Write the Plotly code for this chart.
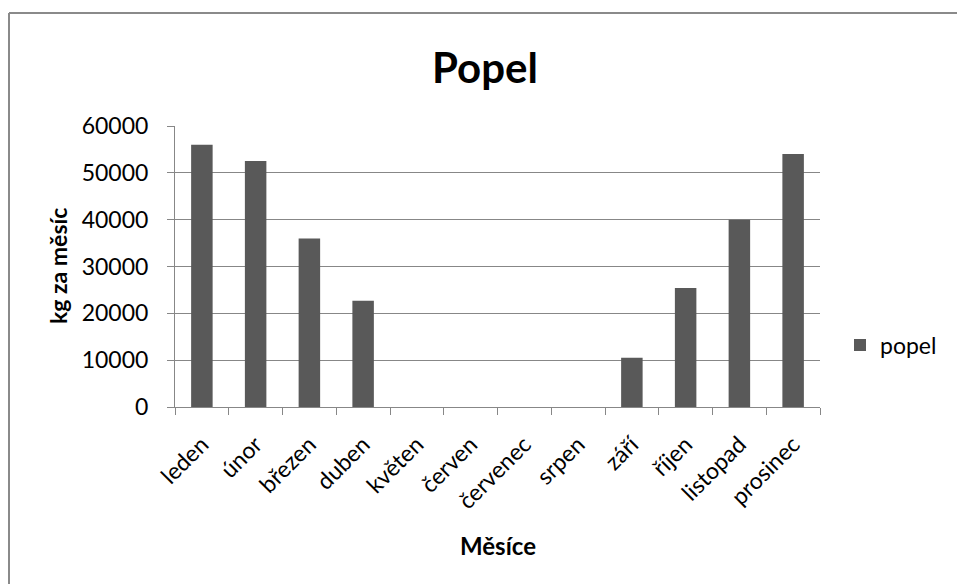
import plotly.graph_objects as go

months = ["leden", "únor", "březen", "duben", "květen", "červen",
          "červenec", "srpen", "září", "říjen", "listopad", "prosinec"]
popel = [56000, 52500, 36000, 22700, 0, 0, 0, 0, 10500, 25400, 40000, 54000]
y_ticks = [0, 10000, 20000, 30000, 40000, 50000, 60000]
y_tick_text = ["0", "10000", "20000", "30000", "40000", "50000", "60000"]

FONT = "Lato, Open Sans, sans-serif"
W, H = 957, 584
# plot area in reference pixels: x 175..820, y 126..407
L = 175
R = W - 820
T = 126
B = H - 407
pw, ph = W - L - R, H - T - B


def px(x):
    return (x - L) / pw


def py(y):
    return (H - B - y) / ph


fig = go.Figure()
fig.add_trace(go.Bar(x=months, y=popel, name="popel",
                     marker=dict(color="#595959", line=dict(width=0)),
                     showlegend=True))

fig.update_layout(
    width=W, height=H,
    margin=dict(l=L, r=R, t=T, b=B, autoexpand=False),
    paper_bgcolor="white", plot_bgcolor="white",
    bargap=0.6,
    font=dict(family=FONT, color="black"),
    title=dict(text="<b>Popel</b>", x=485 / W, xanchor="center",
               y=1 - 68 / H, yanchor="middle",
               font=dict(size=42, family=FONT, color="black")),
    showlegend=True,
    legend=dict(x=px(840), y=py(345), xanchor="left", yanchor="middle",
                font=dict(size=23, family=FONT), itemsizing="constant",
                bgcolor="rgba(0,0,0,0)"),
    xaxis=dict(type="category", tickson="boundaries", ticks="outside",
               ticklen=7, tickcolor="#878787", showline=True,
               linecolor="#878787", linewidth=1, showgrid=False,
               tickangle=-45, tickfont=dict(size=23, family=FONT),
               ticklabelstandoff=14, fixedrange=True),
    yaxis=dict(range=[0, 60000], tickvals=y_ticks, ticktext=y_tick_text,
               ticks="outside", ticklen=7, tickcolor="#878787", showline=True,
               linecolor="#878787", linewidth=1, showgrid=True,
               gridcolor="#878787", gridwidth=1, zeroline=False,
               tickfont=dict(size=23, family=FONT), ticklabelstandoff=14,
               fixedrange=True),
    annotations=[
        dict(text="<b>Měsíce</b>", xref="paper", yref="paper",
             x=px(498), y=py(545), xanchor="center", yanchor="middle",
             showarrow=False, font=dict(size=24, family=FONT, color="black")),
        dict(text="<b>kg za měsíc</b>", xref="paper", yref="paper",
             x=px(58), y=py(266), xanchor="center", yanchor="middle",
             textangle=-90, showarrow=False,
             font=dict(size=23, family=FONT, color="black")),
    ],
    shapes=[
        dict(type="line", xref="paper", yref="paper",
             x0=px(9), x1=px(1000), y0=py(13), y1=py(13),
             line=dict(color="#8a8a8a", width=2), layer="below"),
        dict(type="line", xref="paper", yref="paper",
             x0=px(9), x1=px(9), y0=py(13), y1=py(640),
             line=dict(color="#8a8a8a", width=2), layer="below"),
    ],
)

fig.write_html(
    "out.html",
    config={"displayModeBar": False, "staticPlot": True},
    post_script="document.body.style.margin='0';"
                "document.body.style.overflow='hidden';",
)
